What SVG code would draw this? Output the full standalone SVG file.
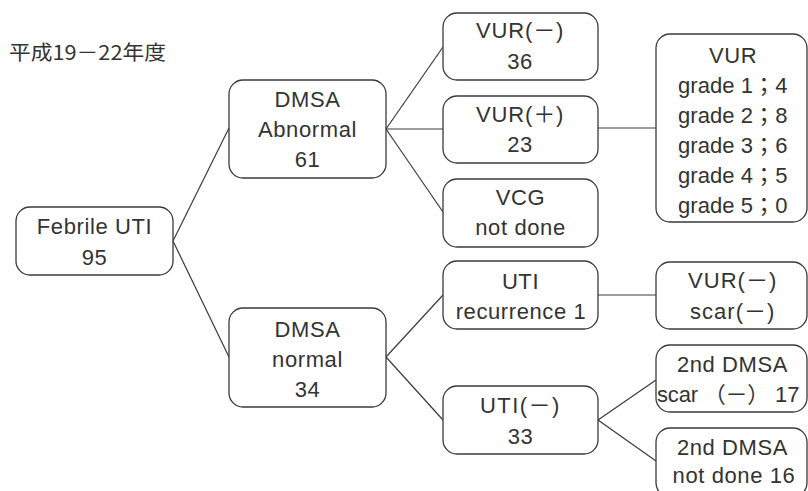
<svg xmlns="http://www.w3.org/2000/svg" width="808" height="491" viewBox="0 0 808 491">
<style>
.box{fill:#fff;stroke:#3a3a3a;stroke-width:1.3}
.t{font-family:"Liberation Sans","Noto Sans CJK JP",sans-serif;font-size:22px;fill:#333;text-anchor:middle;letter-spacing:0.6px}
.title{font-family:"Noto Sans CJK JP","Liberation Sans",sans-serif;font-size:20px;fill:#333}
.c{stroke:#3a3a3a;stroke-width:1.2;fill:none}
</style>
<rect width="808" height="491" fill="#fff"/>
<text class="title" x="9" y="60" textLength="157" lengthAdjust="spacingAndGlyphs">平成19－22年度</text>
<g id="connectors">
<line class="c" x1="173" y1="241" x2="229" y2="128"/>
<line class="c" x1="173" y1="241" x2="229" y2="357"/>
<line class="c" x1="386" y1="129" x2="443" y2="47"/>
<line class="c" x1="386" y1="129" x2="443" y2="129"/>
<line class="c" x1="386" y1="129" x2="443" y2="212"/>
<line class="c" x1="598" y1="128" x2="656" y2="128"/>
<line class="c" x1="386" y1="357" x2="443" y2="295"/>
<line class="c" x1="386" y1="357" x2="443" y2="420"/>
<line class="c" x1="598" y1="295" x2="656" y2="295"/>
<line class="c" x1="598" y1="420" x2="656" y2="380"/>
<line class="c" x1="598" y1="420" x2="656" y2="461"/>
</g>
<g id="n_febrile">
<rect class="box" x="16" y="207" width="157" height="68" rx="14"/>
<text class="t" x="94.5" y="234">Febrile UTI</text>
<text class="t" x="94.5" y="265">95</text>
</g>
<g id="n_abnormal">
<rect class="box" x="229" y="80" width="157" height="98" rx="14"/>
<text class="t" x="307.5" y="107">DMSA</text>
<text class="t" x="307.5" y="137">Abnormal</text>
<text class="t" x="307.5" y="167">61</text>
</g>
<g id="n_vurneg">
<rect class="box" x="443" y="13" width="155" height="67" rx="14"/>
<text class="t" x="520" y="38" textLength="88">VUR(－)</text>
<text class="t" x="520" y="69">36</text>
</g>
<g id="n_vurpos">
<rect class="box" x="443" y="96" width="155" height="67" rx="14"/>
<text class="t" x="520" y="122" textLength="88">VUR(＋)</text>
<text class="t" x="520" y="152">23</text>
</g>
<g id="n_vcg">
<rect class="box" x="443" y="179" width="155" height="68" rx="14"/>
<text class="t" x="520.5" y="205">VCG</text>
<text class="t" x="520.5" y="235">not done</text>
</g>
<g id="n_grades">
<rect class="box" x="656" y="34" width="151" height="188" rx="14"/>
<text class="t" x="733" y="63">VUR</text>
<text class="t" x="733" y="93" textLength="110">grade 1；4</text>
<text class="t" x="733" y="123" textLength="110">grade 2；8</text>
<text class="t" x="733" y="153" textLength="110">grade 3；6</text>
<text class="t" x="733" y="183" textLength="110">grade 4；5</text>
<text class="t" x="733" y="213" textLength="110">grade 5；0</text>
</g>
<g id="n_normal">
<rect class="box" x="229" y="308" width="157" height="99" rx="14"/>
<text class="t" x="307.5" y="337">DMSA</text>
<text class="t" x="307.5" y="367">normal</text>
<text class="t" x="307.5" y="397">34</text>
</g>
<g id="n_recur">
<rect class="box" x="443" y="261" width="155" height="68" rx="14"/>
<text class="t" x="520.5" y="289">UTI</text>
<text class="t" x="521" y="319">recurrence 1</text>
</g>
<g id="n_utineg">
<rect class="box" x="443" y="386" width="155" height="68" rx="14"/>
<text class="t" x="520" y="413" textLength="80">UTI(－)</text>
<text class="t" x="520.5" y="444">33</text>
</g>
<g id="n_vurscar">
<rect class="box" x="656" y="262" width="151" height="67" rx="14"/>
<text class="t" x="732.5" y="288" textLength="89">VUR(－)</text>
<text class="t" x="732.5" y="319" textLength="85">scar(－)</text>
</g>
<g id="n_scar17">
<rect class="box" x="656" y="345" width="151" height="67" rx="14"/>
<text class="t" x="732.5" y="372">2nd DMSA</text>
<text class="t" x="728.5" y="402" textLength="143">scar （－） 17</text>
</g>
<g id="n_notdone">
<rect class="box" x="656" y="428" width="151" height="69" rx="14"/>
<text class="t" x="732.5" y="455">2nd DMSA</text>
<text class="t" x="734" y="483">not done 16</text>
</g>
</svg>
